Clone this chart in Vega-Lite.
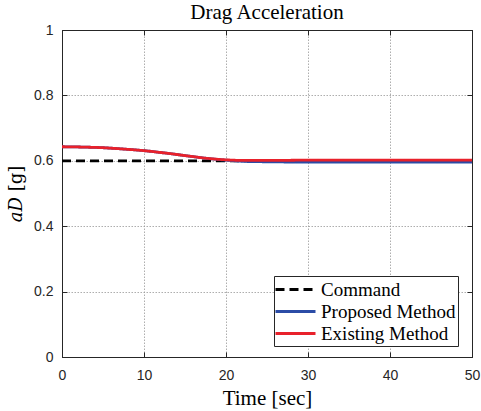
{
  "$schema": "https://vega.github.io/schema/vega-lite/v6.json",
  "width": 410,
  "height": 327,
  "autosize": {"type": "none"},
  "padding": {"left": 62, "top": 30, "right": 9, "bottom": 54},
  "background": "white",
  "title": {"text": "Drag Acceleration", "font": "Liberation Serif", "fontSize": 21, "fontWeight": "normal", "color": "black", "offset": 0},
  "config": {
    "view": {"stroke": "#262626", "strokeWidth": 1},
    "axis": {
      "labelFont": "Liberation Sans",
      "labelFontSize": 14,
      "labelColor": "#262626",
      "labelFlush": false,
      "titleFont": "Liberation Serif",
      "titleFontSize": 21,
      "titleFontWeight": "normal",
      "titleColor": "black",
      "domainColor": "#262626",
      "tickColor": "#262626",
      "tickSize": -5,
      "gridColor": "#9a9a9a",
      "gridDash": [1.5, 1.5],
      "gridWidth": 1,
      "gridOpacity": 0.8
    },
    "legend": {
      "labelFont": "Liberation Serif",
      "labelFontSize": 19,
      "labelColor": "black"
    }
  },
  "data": {
    "values": [
      {"t": 0, "v": 0.6, "series": "Command"},
      {"t": 50, "v": 0.6, "series": "Command"},
      {"t": 0, "v": 0.643, "series": "Proposed Method"},
      {"t": 2.5, "v": 0.642, "series": "Proposed Method"},
      {"t": 5, "v": 0.64, "series": "Proposed Method"},
      {"t": 7.5, "v": 0.636, "series": "Proposed Method"},
      {"t": 10, "v": 0.631, "series": "Proposed Method"},
      {"t": 12.5, "v": 0.624, "series": "Proposed Method"},
      {"t": 15, "v": 0.616, "series": "Proposed Method"},
      {"t": 17.5, "v": 0.608, "series": "Proposed Method"},
      {"t": 20, "v": 0.602, "series": "Proposed Method"},
      {"t": 22.5, "v": 0.598, "series": "Proposed Method"},
      {"t": 25, "v": 0.597, "series": "Proposed Method"},
      {"t": 30, "v": 0.596, "series": "Proposed Method"},
      {"t": 40, "v": 0.596, "series": "Proposed Method"},
      {"t": 50, "v": 0.596, "series": "Proposed Method"},
      {"t": 0, "v": 0.643, "series": "Existing Method"},
      {"t": 2.5, "v": 0.642, "series": "Existing Method"},
      {"t": 5, "v": 0.64, "series": "Existing Method"},
      {"t": 7.5, "v": 0.636, "series": "Existing Method"},
      {"t": 10, "v": 0.631, "series": "Existing Method"},
      {"t": 12.5, "v": 0.624, "series": "Existing Method"},
      {"t": 15, "v": 0.616, "series": "Existing Method"},
      {"t": 17.5, "v": 0.608, "series": "Existing Method"},
      {"t": 20, "v": 0.603, "series": "Existing Method"},
      {"t": 22.5, "v": 0.601, "series": "Existing Method"},
      {"t": 25, "v": 0.601, "series": "Existing Method"},
      {"t": 30, "v": 0.602, "series": "Existing Method"},
      {"t": 40, "v": 0.602, "series": "Existing Method"},
      {"t": 50, "v": 0.602, "series": "Existing Method"}
    ]
  },
  "layer": [
    {
      "mark": {"type": "line", "strokeWidth": 2.8, "interpolate": "monotone"},
      "encoding": {
        "x": {"field": "t", "type": "quantitative", "scale": {"domain": [0, 50], "nice": false},
              "axis": {"orient": "bottom", "title": "Time [sec]", "values": [0, 10, 20, 30, 40, 50], "labelPadding": 16, "titlePadding": 5}},
        "y": {"field": "v", "type": "quantitative", "scale": {"domain": [0, 1], "nice": false},
              "axis": {"orient": "left", "title": "𝑎𝐷 [g]", "titleFont": "DejaVu Serif", "titleFontSize": 18, "values": [0, 0.2, 0.4, 0.6, 0.8, 1], "format": "~g", "labelPadding": 14, "titlePadding": 8}},
        "color": {"field": "series", "type": "nominal",
                  "scale": {"domain": ["Command", "Proposed Method", "Existing Method"], "range": ["#000000", "#2b4ca6", "#e8212b"]},
                  "legend": {"title": null, "orient": "none", "legendX": 212, "legendY": 246, "symbolType": "M-1.2,0H2.8", "symbolSize": 400, "symbolStrokeWidth": 2.8, "padding": 2, "strokeColor": "#262626", "fillColor": "white", "labelOffset": 22, "rowPadding": 0}},
        "strokeDash": {"field": "series", "type": "nominal",
                  "scale": {"domain": ["Command", "Proposed Method", "Existing Method"], "range": [[9, 5], [1, 0], [1, 0]]},
                  "legend": {"title": null, "orient": "none", "legendX": 212, "legendY": 246, "symbolType": "M-1.2,0H2.8", "symbolSize": 400, "symbolStrokeWidth": 2.8, "padding": 2, "strokeColor": "#262626", "fillColor": "white", "labelOffset": 22, "rowPadding": 0}}
      }
    },
    {
      "mark": {"type": "line", "opacity": 0},
      "encoding": {
        "x": {"field": "t", "type": "quantitative", "scale": {"domain": [0, 50], "nice": false},
              "axis": {"orient": "top", "title": null, "labels": false, "grid": false, "minExtent": 0, "maxExtent": 0, "values": [0, 10, 20, 30, 40, 50]}},
        "y": {"field": "v", "type": "quantitative", "scale": {"domain": [0, 1], "nice": false},
              "axis": {"orient": "right", "title": null, "labels": false, "grid": false, "minExtent": 0, "maxExtent": 0, "values": [0, 0.2, 0.4, 0.6, 0.8, 1]}}
      }
    }
  ],
  "resolve": {"axis": {"x": "independent", "y": "independent"}}
}
